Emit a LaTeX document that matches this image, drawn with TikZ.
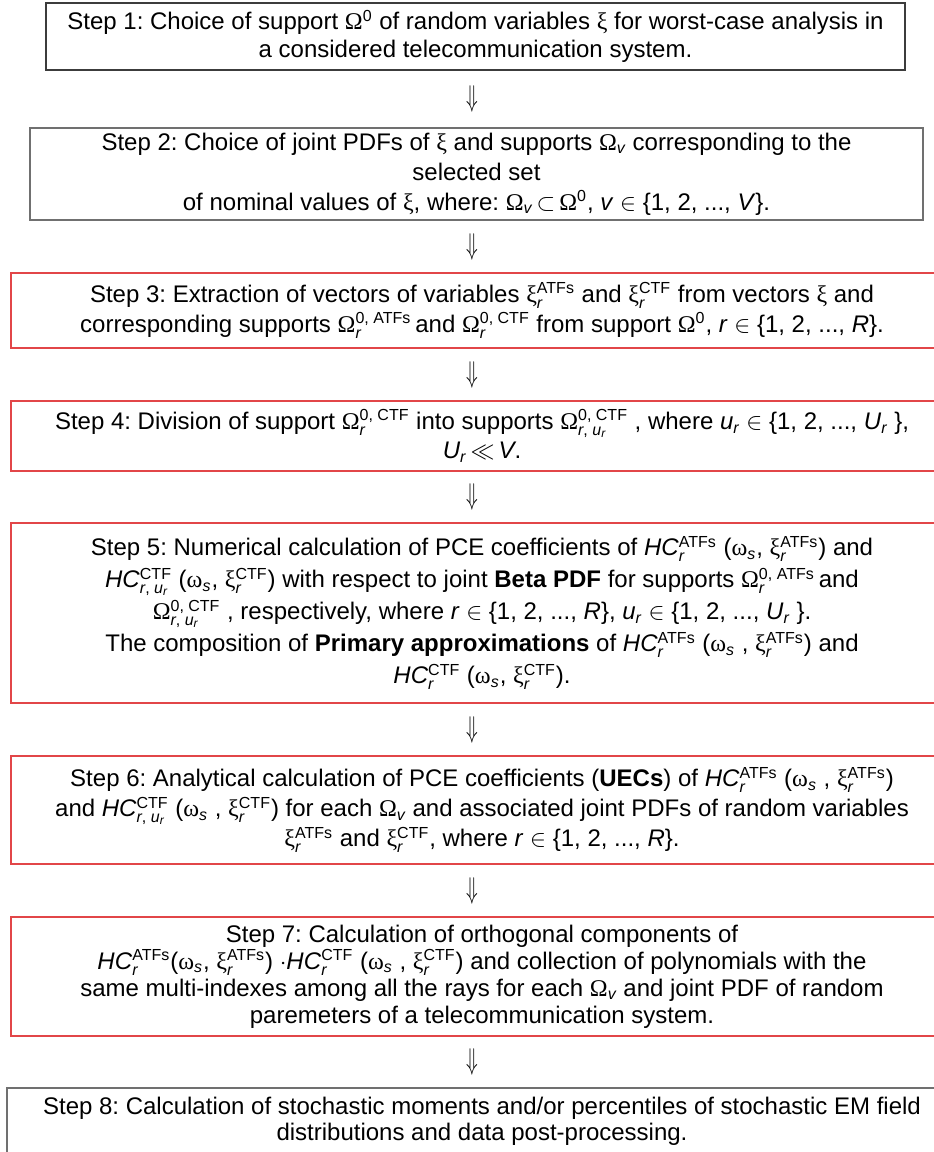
\documentclass[tikz,border=0pt]{standalone}
\usepackage{amsmath}
\usepackage{fontspec}
\setmainfont{Liberation Sans}
\newfontfamily\grkfont{Liberation Serif}
\usetikzlibrary{calc}
\definecolor{boxred}{RGB}{226,70,72}
\definecolor{framegray}{RGB}{112,112,112}
\definecolor{darkframe}{RGB}{60,60,60}
\frenchspacing
\newcommand{\gk}[1]{{\grkfont #1}}
\newcommand{\vi}[1]{\text{\itshape #1}}
\newcommand{\tx}[1]{\text{#1}}
\newcommand{\xir}[1]{\gk{ξ}$_{\vi{r}}^{\tx{#1}}$}
\newcommand{\Omr}[1]{\gk{Ω}$_{\vi{r}}^{\tx{0, #1}}$}
\newcommand{\Omru}{\gk{Ω}$_{\vi{r}\tx{, }\vi{u}_{\vi{r}}}^{\tx{0, CTF}}$}
\newcommand{\Omv}{\gk{Ω}$_{\vi{v}}$}
\newcommand{\HCr}[1]{\textit{HC}$_{\vi{r}}^{\tx{#1}}$}
\newcommand{\HCru}{\textit{HC}$_{\vi{r}\tx{, }\vi{u}_{\vi{r}}}^{\tx{CTF}}$}
\newcommand{\ws}{\gk{ω}$_{\vi{s}}$}
\newcommand{\Ur}{\textit{U}$_{\vi{r}}$}
\newcommand{\ur}{\textit{u}$_{\vi{r}}$}

\begin{document}
\begin{tikzpicture}[x=0.5pt, y=-0.5pt,
    every node/.style={font=\fontsize{12}{15}\selectfont},
    stepfont/.style={font=\fontsize{12}{#1}\selectfont},
    stepbox/.style={draw, line width=0.6pt, align=center, inner sep=0pt}]
        \useasboundingbox (0,0) rectangle (933,1152);
        \coordinate (axis) at (472,0);
        \node[stepbox, stepfont=14pt, draw=darkframe, minimum width=429.5pt, minimum height=33.5pt] (s1) at (475.5,36.5)
          {Step 1: Choice of support \gk{Ω}$^{\tx{0}}$ of random variables \gk{ξ} for worst-case analysis in\\
           a considered telecommunication system.};
        \node[stepbox, draw=framegray, minimum width=446.5pt, minimum height=46pt] (s2) at (476.5,174)
          {Step 2: Choice of joint PDFs of \gk{ξ} and supports \Omv{} corresponding to the\\
           selected set\\
           of nominal values of \gk{ξ}, where: \Omv$\,\subset\,$\gk{Ω}$^{\tx{0}}$, \textit{v} $\in$ \{1, 2, ..., \textit{V}\}.};
        \node[stepbox, draw=boxred, minimum width=471pt, minimum height=37.5pt] (s3) at (482,310.5)
          {Step 3: Extraction of vectors of variables \xir{ATFs} and \xir{CTF} from vectors \gk{ξ} and\\
           corresponding supports \Omr{ATFs}\,and \Omr{CTF} from support \gk{Ω}$^{\tx{0}}$, \textit{r} $\in$ \{1, 2, ..., \textit{R}\}.};
        \node[stepbox, stepfont=14.5pt, draw=boxred, minimum width=471pt, minimum height=35pt] (s4) at (482,436)
          {Step 4: Division of support \Omr{CTF} into supports \Omru{} , where \ur{} $\in$ \{1, 2, ..., \Ur{} \},\\
           \Ur$\,\ll\,$\textit{V}.};
        \node[stepbox, stepfont=16pt, draw=boxred, minimum width=471pt, minimum height=90pt] (s5) at (482,613)
          {Step 5: Numerical calculation of PCE coefficients of \HCr{ATFs} (\ws, \xir{ATFs}) and\\
           \HCru{} (\ws, \xir{CTF}) with respect to joint \textbf{Beta PDF} for supports \Omr{ATFs}\,and\\
           \Omru{} , respectively, where \textit{r} $\in$ \{1, 2, ..., \textit{R}\}, \ur{} $\in$ \{1, 2, ..., \Ur{} \}.\\
           The composition of \textbf{Primary approximations} of \HCr{ATFs} (\ws{} , \xir{ATFs}) and\\
           \HCr{CTF} (\ws, \xir{CTF}).};
        \node[stepbox, draw=boxred, minimum width=471pt, minimum height=54pt] (s6) at (482,810)
          {Step 6: Analytical calculation of PCE coefficients (\textbf{UECs}) of \HCr{ATFs} (\ws{} , \xir{ATFs})\\
           and \HCru{} (\ws{} , \xir{CTF}) for each \Omv{} and associated joint PDFs of random variables\\
           \xir{ATFs} and \xir{CTF}, where \textit{r} $\in$ \{1, 2, ..., \textit{R}\}.};
        \node[stepbox, stepfont=13.5pt, draw=boxred, minimum width=471pt, minimum height=59.5pt] (s7) at (482,976.5)
          {Step 7: Calculation of orthogonal components of\\
           \HCr{ATFs}(\ws, \xir{ATFs}) $\cdot$\HCr{CTF} (\ws{} , \xir{CTF}) and collection of polynomials with the\\
           same multi-indexes among all the rays for each \Omv{} and joint PDF of random\\
           paremeters of a telecommunication system.};
        \node[stepbox, stepfont=13pt, draw=framegray, minimum width=475pt, minimum height=33.5pt] (s8) at (482,1121.5)
          {Step 8: Calculation of stochastic moments and/or percentiles of stochastic EM field\\
           distributions and data post-processing.};
        \foreach \a/\b in {s1/s2,s2/s3,s3/s4,s4/s5,s5/s6,s6/s7,s7/s8} {
          \node (d\a) at ($(\a.south -| axis)!0.5!(\b.north -| axis)$) {\scalebox{0.8}[1.25]{$\Downarrow$}};
        }
      \end{tikzpicture}
\end{document}
